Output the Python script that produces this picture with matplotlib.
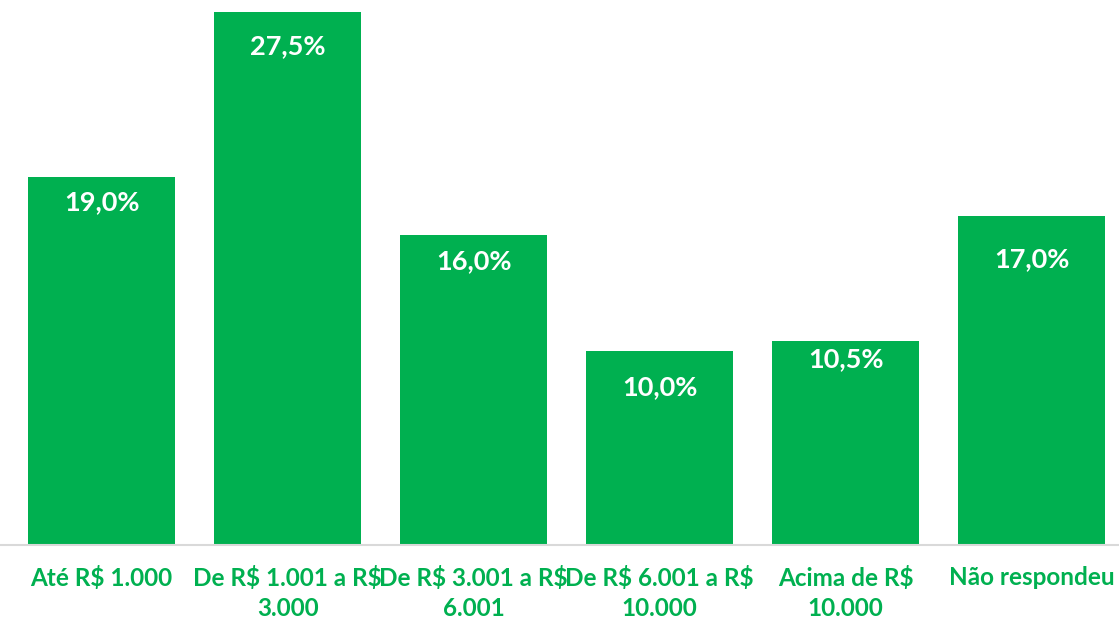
import matplotlib.pyplot as plt

# faixas de renda e percentuais
categorias = ["Até R\\$ 1.000", "De R\\$ 1.001 a R\\$\n3.000", "De R\\$ 3.001 a R\\$\n6.001",
              "De R\\$ 6.001 a R\\$\n10.000", "Acima de R\\$\n10.000", "Não respondeu"]
valores = [19.0, 27.5, 16.0, 10.0, 10.5, 17.0]
rotulos = ["19,0%", "27,5%", "16,0%", "10,0%", "10,5%", "17,0%"]

# deslocamento (pt) dos rótulos abaixo do topo de cada barra, como no original
desloc = [10, 16, 10.5, 17, 4, 22.5]

verde = "#00B050"

fig = plt.figure(figsize=(11.19, 6.22), dpi=100)
ax = fig.add_axes([0, 1 - 545 / 622, 1, 545 / 622])

x = range(len(valores))
barras = ax.bar(x, valores, width=0.79, color=verde)

for b, txt, d in zip(barras, rotulos, desloc):
    ax.annotate(txt, (b.get_x() + b.get_width() / 2, b.get_height()),
                xytext=(0, -d), textcoords="offset points",
                ha="center", va="top", color="white",
                fontsize=19.5, fontweight="bold", family="Lato")

ax.set_xlim(-0.546, 5.47)
ax.set_ylim(0, 27.5 * 545 / 533)

ax.set_xticks(list(x))
ax.set_xticklabels(categorias, color=verde, fontsize=17.5, fontweight="bold",
                   family="Lato", linespacing=1.4)
ax.tick_params(axis="x", length=0, pad=15)
ax.set_yticks([])

for s in ["top", "right", "left"]:
    ax.spines[s].set_visible(False)
ax.spines["bottom"].set_color("#D9D9D9")
ax.spines["bottom"].set_linewidth(1.5)

fig.savefig("out.png", dpi=100)
